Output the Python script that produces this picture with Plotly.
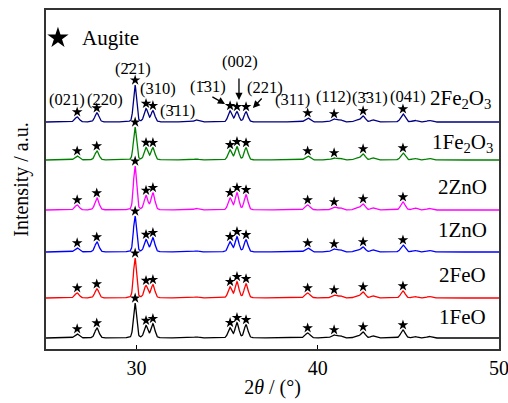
import numpy as np
import plotly.graph_objects as go

# ---- data ----
samples = ["1FeO", "2FeO", "1ZnO", "2ZnO", "1Fe2O3", "2Fe2O3"]
sample_labels = ["1FeO", "2FeO", "1ZnO", "2ZnO", "1Fe<sub>2</sub>O<sub>3</sub>", "2Fe<sub>2</sub>O<sub>3</sub>"]
colors = ["#000000", "#ff0000", "#0000ff", "#ff00ff", "#008000", "#000080"]
offsets = [11, 51, 97, 139, 189, 227]          # stacking offset of each pattern (a.u.)

# augite reflections (2theta, deg) and peak intensities per sample (a.u.)
hkl = ["(021)", "(220)", "(2\u030421)", "(310)", "(3\u030411)", "(1\u030431)", "(002)", "(221)",
       "(311)", "(112)", "(3\u030431)", "(041)"]
peak_pos = [26.71, 27.81, 29.91, 30.52, 30.90, 35.15, 35.54, 36.04, 39.44, 40.89, 42.50, 44.70]
peak_fwhm = [0.28, 0.26, 0.20, 0.24, 0.24, 0.24, 0.24, 0.24, 0.32, 0.32, 0.28, 0.28]
peak_int = {
    "1FeO":   [4, 10, 35, 12, 14, 10, 15, 13, 5, 3, 6, 8],
    "2FeO":   [5, 9, 40, 12, 13, 11, 16, 14, 5, 3, 6, 7],
    "1ZnO":   [4, 10, 36, 12, 14, 10, 15, 12, 4, 3, 5, 7],
    "2ZnO":   [5, 12, 44, 14, 17, 12, 17, 15, 5, 3, 6, 8],
    "1Fe2O3": [4, 9, 33, 12, 12, 10, 13, 12, 4, 2, 6, 7],
    "2Fe2O3": [5, 9, 37, 13, 11, 11, 10, 10, 4, 3, 6, 8],
}
# weak unlabelled reflections
minor_pos = [33.30, 41.25, 42.15, 43.05, 45.35, 46.15]
minor_int = {
    "1FeO":   [1, 2, 2, 2, 1.5, 1.5],
    "2FeO":   [1, 2, 2, 2, 1.5, 1.5],
    "1ZnO":   [1, 2, 2, 2, 1.5, 1.5],
    "2ZnO":   [1.5, 2, 2.5, 2, 2, 1.5],
    "1Fe2O3": [1, 1.5, 2, 2, 1.5, 1.5],
    "2Fe2O3": [2, 2, 2, 2, 1.5, 1.5],
}

two_theta = np.arange(25.0, 50.0001, 0.02)


def pattern(name):
    y = np.zeros_like(two_theta)
    for p, w, h in zip(peak_pos, peak_fwhm, peak_int[name]):
        g = np.exp(-4 * np.log(2) * ((two_theta - p) / w) ** 2)
        l = 1 / (1 + 4 * ((two_theta - p) / w) ** 2)
        y += h * (0.8 * g + 0.2 * l)
    for p, h in zip(minor_pos, minor_int[name]):
        y += h * np.exp(-4 * np.log(2) * ((two_theta - p) / 0.3) ** 2)
    return y


fig = go.Figure()
serif = "Liberation Serif"

for name, col, off in zip(samples, colors, offsets):
    y = pattern(name) + off
    fig.add_trace(go.Scatter(x=two_theta, y=y, mode="lines",
                             line=dict(color=col, width=1.3), showlegend=False,
                             hoverinfo="skip"))
    # star markers on top of each augite reflection
    sx, sy = [], []
    for p in peak_pos:
        i = int(np.argmin(np.abs(two_theta - p)))
        lo, hi = max(i - 5, 0), i + 6
        j = lo + int(np.argmax(y[lo:hi]))
        sx.append(two_theta[j])
        sy.append(y[j] + 5)
    fig.add_trace(go.Scatter(x=sx, y=sy, mode="markers",
                             marker=dict(symbol="star", size=8, color="black"),
                             showlegend=False, hoverinfo="skip"))

# legend: star + Augite
fig.add_trace(go.Scatter(x=[25.66], y=[311], mode="markers",
                         marker=dict(symbol="star", size=16, color="black"),
                         showlegend=False, hoverinfo="skip"))
fig.add_annotation(x=26.85, y=311, text="Augite", showarrow=False, xanchor="left",
                   font=dict(family=serif, size=21, color="black"))

# hkl labels
hkl_xy = [(26.16, 250), (28.26, 250), (29.80, 281), (31.18, 261), (32.23, 239),
          (33.94, 263), (35.71, 288), (37.09, 262), (38.63, 250), (40.84, 253),
          (42.88, 252), (44.98, 253)]
for t, (x, y) in zip(hkl, hkl_xy):
    fig.add_annotation(x=x, y=y, text=t, showarrow=False,
                       font=dict(family=serif, size=16.5, color="black"))

# arrows
arrows = [((34.10, 253), (34.88, 245)), ((35.65, 272), (35.65, 249)), ((36.98, 252), (36.42, 241))]
for (tx, ty), (hx, hy) in arrows:
    fig.add_annotation(x=hx, y=hy, ax=tx, ay=ty, axref="x", ayref="y", text="",
                       showarrow=True, arrowhead=2, arrowsize=1.1, arrowwidth=1.3,
                       arrowcolor="black")

# sample labels
label_xy = [(48.01, 32), (47.96, 74), (48.01, 119), (47.96, 162), (48.01, 206), (47.85, 250)]
for t, (x, y) in zip(sample_labels, label_xy):
    fig.add_annotation(x=x, y=y, text=t, showarrow=False,
                       font=dict(family=serif, size=21, color="black"))

fig.update_layout(
    width=508, height=403,
    margin=dict(l=46, r=9, t=10, b=54),
    paper_bgcolor="white", plot_bgcolor="white",
    font=dict(family=serif, size=20, color="black"),
    xaxis=dict(range=[25, 50], tick0=0, dtick=10, ticks="inside", ticklen=4,
               tickwidth=1.3, tickcolor="black", showgrid=False, zeroline=False,
               showline=True, linecolor="#333333", linewidth=1.5, mirror=True,
               automargin=False, ticklabeloverflow="allow",
               tickfont=dict(family=serif, size=20),
               title=dict(text="2<i>θ</i> / (°)", font=dict(family=serif, size=20), standoff=2)),
    yaxis=dict(range=[0, 339], showticklabels=False, ticks="", showgrid=False,
               zeroline=False, showline=True, linecolor="#333333", linewidth=1.5,
               mirror=True, automargin=False,
               title=dict(text="Intensity / a.u.", font=dict(family=serif, size=20), standoff=10)),
)

fig.write_html("out.html")
